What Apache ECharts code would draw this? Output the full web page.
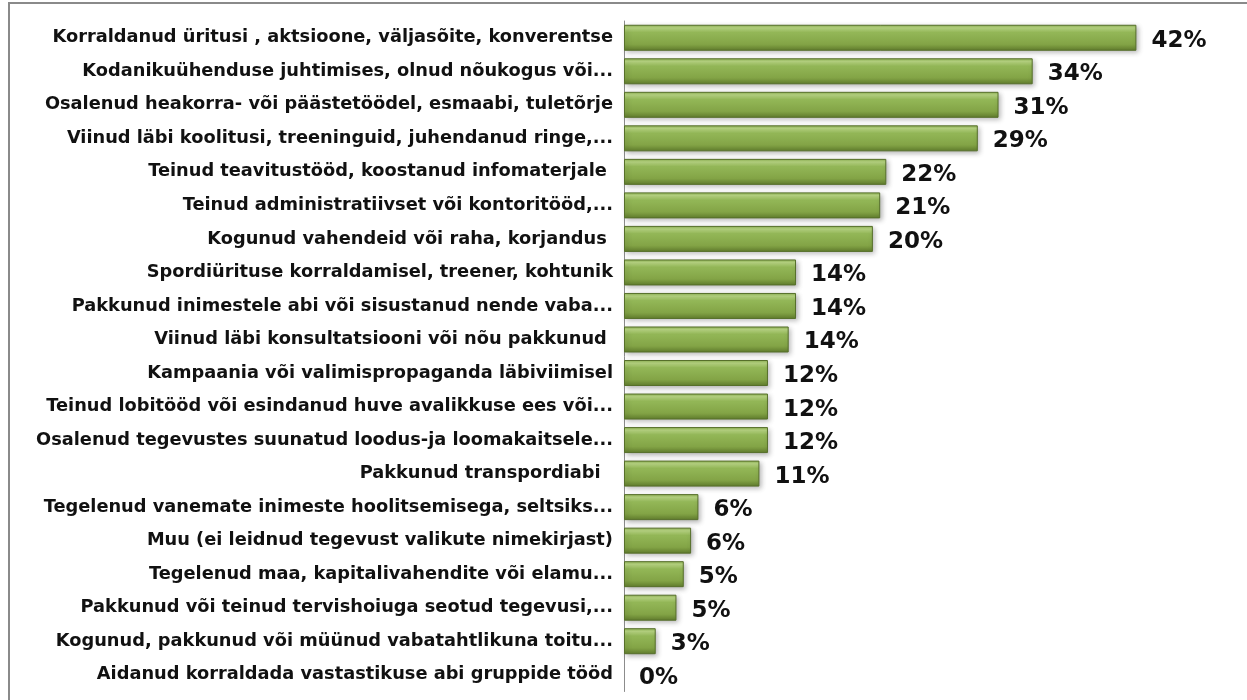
<!DOCTYPE html>
<html>
<head>
<meta charset="utf-8">
<script src="https://cdn.jsdelivr.net/npm/echarts@6/dist/echarts.min.js"></script>
<style>
  html, body { margin: 0; padding: 0; background: #fff; }
  #chart { width: 1247px; height: 700px; }
</style>
</head>
<body>
<div id="chart"></div>
<script>
// tegevused (ülevalt alla)
const categories = [
  'Korraldanud üritusi , aktsioone, väljasõite, konverentse',
  'Kodanikuühenduse juhtimises, olnud nõukogus või...',
  'Osalenud heakorra- või päästetöödel, esmaabi, tuletõrje',
  'Viinud läbi koolitusi, treeninguid, juhendanud ringe,...',
  'Teinud teavitustööd, koostanud infomaterjale ',
  'Teinud administratiivset või kontoritööd,...',
  'Kogunud vahendeid või raha, korjandus ',
  'Spordiürituse korraldamisel, treener, kohtunik',
  'Pakkunud inimestele abi või sisustanud nende vaba...',
  'Viinud läbi konsultatsiooni või nõu pakkunud ',
  'Kampaania või valimispropaganda läbiviimisel',
  'Teinud lobitööd või esindanud huve avalikkuse ees või...',
  'Osalenud tegevustes suunatud loodus-ja loomakaitsele...',
  'Pakkunud transpordiabi  ',
  'Tegelenud vanemate inimeste hoolitsemisega, seltsiks...',
  'Muu (ei leidnud tegevust valikute nimekirjast)',
  'Tegelenud maa, kapitalivahendite või elamu...',
  'Pakkunud või teinud tervishoiuga seotud tegevusi,...',
  'Kogunud, pakkunud või müünud vabatahtlikuna toitu...',
  'Aidanud korraldada vastastikuse abi gruppide tööd'
];

// osakaal, %
const values = [42.0, 33.5, 30.7, 29.0, 21.5, 21.0, 20.4, 14.1, 14.1, 13.5,
                11.8, 11.8, 11.8, 11.1, 6.1, 5.5, 4.9, 4.3, 2.6, 0];

// sildid nagu joonisel
const valueLabels = ['42%', '34%', '31%', '29%', '22%', '21%', '20%', '14%', '14%', '14%',
                     '12%', '12%', '12%', '11%', '6%', '6%', '5%', '5%', '3%', '0%'];

const chart = echarts.init(document.getElementById('chart'));

const barColor = new echarts.graphic.LinearGradient(0, 0, 0, 1, [
  { offset: 0, color: '#8fb352' },
  { offset: 0.12, color: '#b9d783' },
  { offset: 0.3, color: '#93b757' },
  { offset: 0.75, color: '#83a446' },
  { offset: 1, color: '#617d2d' }
]);

// nullväärtusel ei joonistata tulpa ega äärist
const barData = values.map((v) => (v === 0
  ? { value: v, itemStyle: { borderWidth: 0, shadowBlur: 0, shadowOffsetX: 0, shadowOffsetY: 0 } }
  : v));

const option = {
  animation: false,
  backgroundColor: '#fff',
  graphic: [{
    type: 'rect',
    shape: { x: 9, y: 3, width: 1400, height: 900 },
    style: { fill: 'none', stroke: '#8a8a8a', lineWidth: 2 },
    silent: true
  }],
  grid: { left: 624, top: 21, right: 13, bottom: 8.5 },
  xAxis: {
    type: 'value',
    min: 0,
    max: 50,
    show: false
  },
  yAxis: {
    type: 'category',
    inverse: true,
    data: categories,
    axisLine: { lineStyle: { color: '#8c8c8c', width: 1 } },
    axisTick: { length: 8, lineStyle: { color: '#8c8c8c' } },
    axisLabel: {
      margin: 11,
      color: '#111',
      fontFamily: 'DejaVu Sans',
      fontWeight: 'bold',
      fontSize: 17.8,
      padding: [5, 0, 0, 0]
    }
  },
  series: [{
    type: 'bar',
    data: barData,
    barWidth: 26,
    itemStyle: {
      color: barColor,
      borderColor: '#566f2a',
      borderWidth: 1,
      shadowColor: 'rgba(0,0,0,0.3)',
      shadowBlur: 5,
      shadowOffsetX: 2,
      shadowOffsetY: 2
    },
    label: {
      show: true,
      position: 'right',
      distance: 15,
      offset: [0, 3],
      color: '#111',
      fontFamily: 'DejaVu Sans',
      fontWeight: 'bold',
      fontSize: 23,
      formatter: (p) => valueLabels[p.dataIndex]
    }
  }]
};

chart.setOption(option);
</script>
</body>
</html>
